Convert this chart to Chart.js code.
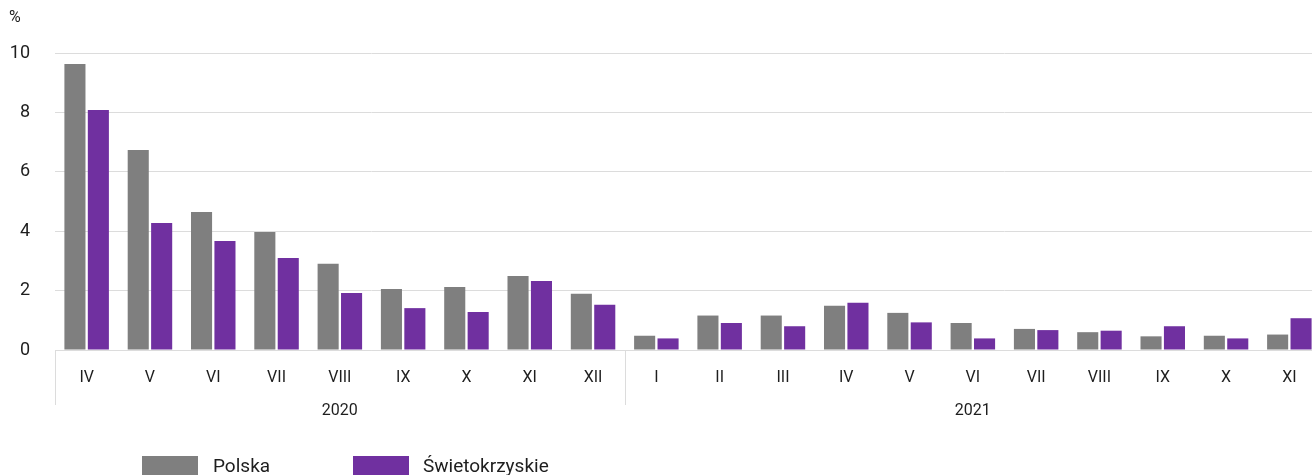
<!DOCTYPE html>
<html>
<head>
<meta charset="utf-8">
<script src="https://cdn.jsdelivr.net/npm/chart.js@4"></script>
<style>
    html, body { margin: 0; padding: 0; background: #fff; overflow: hidden; }
    #wrap { position: relative; width: 1325px; height: 475px; }
    #legend { position: absolute; left: 0; top: 0; font-family: Roboto, sans-serif; font-size: 19px; color: #1e1e1e; }
    .item { position: absolute; top: 456px; white-space: nowrap; }
    .box { position: absolute; top: 0; width: 56px; height: 22px; }
    .lbl { position: absolute; top: -2px; }
</style>
</head>
<body>
<div id="wrap">
    <canvas id="chart" width="1325" height="475"></canvas>
    <div id="legend"></div>
</div>
<script>
const months = ['IV', 'V', 'VI', 'VII', 'VIII', 'IX', 'X', 'XI', 'XII',
                'I', 'II', 'III', 'IV', 'V', 'VI', 'VII', 'VIII', 'IX', 'X', 'XI'];
const years = ['2020', '2021'];
const yearStart = [0, 9];
const seriesNames = ['Polska', 'Świetokrzyskie'];
const polska = [9.63, 6.73, 4.65, 3.97, 2.90, 2.05, 2.12, 2.49, 1.89,
                0.48, 1.16, 1.16, 1.49, 1.25, 0.91, 0.71, 0.60, 0.46, 0.48, 0.52];
const swietokrzyskie = [8.08, 4.28, 3.67, 3.10, 1.92, 1.41, 1.28, 2.32, 1.52,
                        0.39, 0.91, 0.80, 1.59, 0.93, 0.39, 0.67, 0.65, 0.80, 0.39, 1.07];
const colors = ['#7f7f7f', '#7030a0'];
const yTicks = [0, 2, 4, 6, 8, 10];

const FONT = 'Roboto, sans-serif';
const GRID = '#dcdcdc';
const TEXT = '#1e1e1e';

// year groups under the month labels, plus the separators between them
const yearGroups = {
    id: 'yearGroups',
    afterDraw(chart) {
        const ctx = chart.ctx;
        const x = chart.scales.x;
        const area = chart.chartArea;
        const edge = i => i === 0 ? area.left : (x.getPixelForValue(i - 1) + x.getPixelForValue(i)) / 2;
        ctx.save();
        ctx.strokeStyle = GRID;
        ctx.lineWidth = 1;
        ctx.fillStyle = TEXT;
        ctx.font = '16px ' + FONT;
        ctx.textAlign = 'center';
        ctx.textBaseline = 'middle';
        years.forEach((year, k) => {
            const from = edge(yearStart[k]);
            const to = k + 1 < years.length ? edge(yearStart[k + 1]) : area.right;
            ctx.beginPath();
            ctx.moveTo(Math.round(from) + 0.5, area.bottom);
            ctx.lineTo(Math.round(from) + 0.5, area.bottom + 55);
            ctx.stroke();
            ctx.fillText(year, (from + to) / 2, area.bottom + 61);
        });
        // unit label above the y axis
        ctx.textAlign = 'left';
        ctx.font = '16px ' + FONT;
        ctx.fillText('%', 9, 18);
        ctx.restore();
    }
};

const ctx = document.getElementById('chart').getContext('2d');
const chart = new Chart(ctx, {
    type: 'bar',
    data: {
        labels: months,
        datasets: [
            { label: seriesNames[0], data: polska, backgroundColor: colors[0] },
            { label: seriesNames[1], data: swietokrzyskie, backgroundColor: colors[1] }
        ]
    },
    options: {
        responsive: false,
        animation: false,
        devicePixelRatio: 1,
        categoryPercentage: 0.74,
        barPercentage: 0.9,
        layout: { padding: { top: 53, right: 4, bottom: 0, left: 0 } },
        plugins: {
            legend: { display: false },
            tooltip: { enabled: false }
        },
        scales: {
            x: {
                grid: { display: false, drawTicks: false },
                border: { display: true, color: GRID },
                ticks: {
                    color: TEXT,
                    font: { family: FONT, size: 16 },
                    padding: 18,
                    maxRotation: 0,
                    autoSkip: false
                },
                afterFit(scale) { scale.height = 125; }
            },
            y: {
                min: 0,
                max: 10,
                afterBuildTicks(scale) { scale.ticks = yTicks.map(v => ({ value: v })); },
                grid: { color: GRID, drawTicks: false },
                border: { display: false },
                ticks: {
                    color: TEXT,
                    font: { family: FONT, size: 18 },
                    padding: 25
                },
                afterFit(scale) { scale.width = 55; }
            }
        }
    },
    plugins: [yearGroups]
});

// legend below the chart
const legendLeft = [142, 353];
const legend = document.getElementById('legend');
seriesNames.forEach((name, i) => {
    const item = document.createElement('div');
    item.className = 'item';
    item.style.left = legendLeft[i] + 'px';
    item.innerHTML = `<div class="box" style="background:${colors[i]}"></div><span class="lbl" style="left:${i === 0 ? 71 : 70}px">${name}</span>`;
    legend.appendChild(item);
});
</script>
</body>
</html>
